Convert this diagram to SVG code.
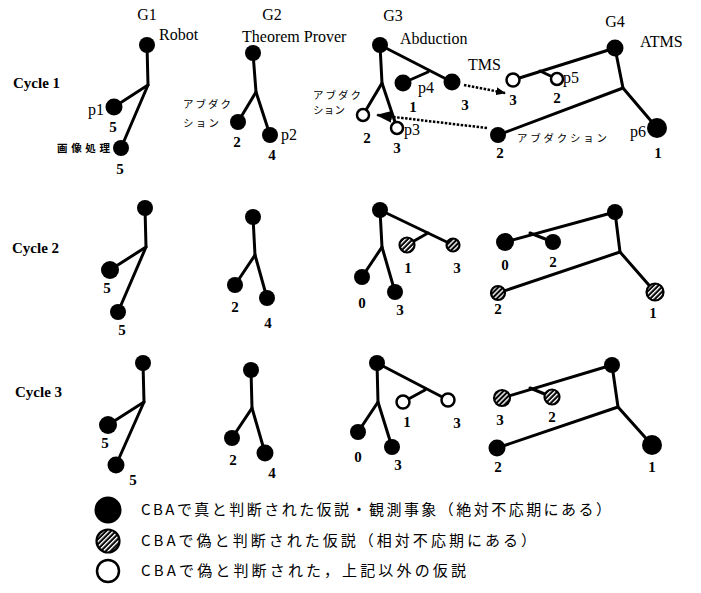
<svg xmlns="http://www.w3.org/2000/svg" width="701" height="593" viewBox="0 0 701 593">
<style>
.e{stroke:#000;stroke-width:3;fill:none;stroke-linecap:round}
.f{fill:#000}
.o{fill:#fff;stroke:#000;stroke-width:2.5}
.h{fill:url(#hatch);stroke:#000;stroke-width:2.2}
.t{font-family:"Liberation Serif",serif;font-size:16px;fill:#000}
.n{font-family:"Liberation Serif",serif;font-size:15px;font-weight:bold;text-anchor:middle;fill:#000}
.j{font-family:"Noto Sans CJK JP",sans-serif;font-size:10.5px;fill:#000}
.c{font-family:"Liberation Serif",serif;font-size:15px;font-weight:bold;fill:#000}
.l{font-family:"Noto Sans CJK JP",sans-serif;font-size:15px;fill:#000}
.d{stroke:#000;stroke-width:2.5;fill:none;stroke-dasharray:2.5 1.5}
</style>
<defs>
<pattern id="hatch" patternUnits="userSpaceOnUse" width="3.5" height="3.5" patternTransform="rotate(45)">
<rect width="3.5" height="3.5" fill="#000"/>
<rect x="0" y="0" width="1.4" height="3.5" fill="#fff"/>
</pattern>
<marker id="ah" markerWidth="10" markerHeight="8" refX="9" refY="4" orient="auto" markerUnits="userSpaceOnUse">
<path d="M0,0 L10,4 L0,8 Z" fill="#000"/>
</marker>
<marker id="ah2" markerWidth="16" markerHeight="12" refX="15" refY="6" orient="auto" markerUnits="userSpaceOnUse">
<path d="M0,0 L16,6 L0,12 Z" fill="#000"/>
</marker>
</defs>
<rect width="701" height="593" fill="#fff"/>

<!-- headers -->
<g id="headers">
<text class="t" x="147" y="20" text-anchor="middle">G1</text>
<text class="t" x="272" y="20" text-anchor="middle">G2</text>
<text class="t" x="393" y="21" text-anchor="middle">G3</text>
<text class="t" x="615" y="27" text-anchor="middle">G4</text>
<text class="t" x="159" y="40">Robot</text>
<text class="t" x="242" y="42">Theorem Prover</text>
<text class="t" x="400" y="44">Abduction</text>
<text class="t" x="640" y="47">ATMS</text>
<text class="c" x="13" y="88">Cycle 1</text>
<text class="c" x="12" y="253">Cycle 2</text>
<text class="c" x="15" y="397">Cycle 3</text>
</g>

<!-- connectors -->
<g id="connectors">
<!-- cycle 1 -->
<polyline class="e" points="147,45 148,85 114,107"/>
<line class="e" x1="148" y1="85" x2="121" y2="148"/>
<polyline class="e" points="253,53 256,92 238,122"/>
<line class="e" x1="256" y1="92" x2="270" y2="135"/>
<polyline class="e" points="380,45 382,83 363,115"/>
<line class="e" x1="382" y1="83" x2="397" y2="128"/>
<line class="e" x1="380" y1="45" x2="452" y2="82"/>
<line class="e" x1="428" y1="72" x2="403" y2="83"/>
<line class="e" x1="615" y1="48" x2="513" y2="80"/>
<line class="e" x1="540" y1="71" x2="557" y2="79"/>
<polyline class="e" points="615,48 623,88 657,128"/>
<line class="e" x1="623" y1="88" x2="498" y2="135"/>
<line class="d" x1="464" y1="85" x2="505" y2="93" marker-end="url(#ah)"/>
<line class="d" x1="487" y1="128" x2="377" y2="115" marker-end="url(#ah2)"/>
<!-- cycle 2 -->
<polyline class="e" points="145,208 146,247 110,270"/>
<line class="e" x1="146" y1="247" x2="118" y2="312"/>
<polyline class="e" points="253,217 255,255 235,285"/>
<line class="e" x1="255" y1="255" x2="267" y2="298"/>
<polyline class="e" points="380,210 382,247 362,277"/>
<line class="e" x1="382" y1="247" x2="395" y2="292"/>
<line class="e" x1="380" y1="210" x2="453" y2="245"/>
<line class="e" x1="428" y1="233" x2="407" y2="245"/>
<line class="e" x1="615" y1="212" x2="505" y2="242"/>
<line class="e" x1="530" y1="233" x2="553" y2="242"/>
<polyline class="e" points="615,212 620,252 655,292"/>
<line class="e" x1="620" y1="252" x2="498" y2="293"/>
<!-- cycle 3 -->
<polyline class="e" points="143,363 144,402 108,425"/>
<line class="e" x1="144" y1="402" x2="116" y2="465"/>
<polyline class="e" points="251,370 252,408 232,438"/>
<line class="e" x1="252" y1="408" x2="265" y2="453"/>
<polyline class="e" points="377,363 378,402 358,432"/>
<line class="e" x1="378" y1="402" x2="392" y2="447"/>
<line class="e" x1="377" y1="363" x2="448" y2="400"/>
<line class="e" x1="425" y1="390" x2="403" y2="402"/>
<line class="e" x1="612" y1="365" x2="502" y2="398"/>
<line class="e" x1="530" y1="388" x2="552" y2="397"/>
<polyline class="e" points="612,365 618,407 652,445"/>
<line class="e" x1="618" y1="407" x2="497" y2="448"/>
</g>

<!-- Cycle 1 nodes -->
<g id="c1-g1-root"><circle class="f" cx="147" cy="45" r="8"/></g>
<g id="c1-g1-p1"><circle class="f" cx="114" cy="107" r="8.5"/><text class="t" x="104" y="115" text-anchor="end">p1</text><text class="n" x="113" y="132">5</text></g>
<g id="c1-g1-img"><circle class="f" cx="121" cy="148" r="8"/><text class="j" x="57" y="152" font-weight="bold" font-size="13" textLength="53">画像処理</text><text class="n" x="120" y="174">5</text></g>

<g id="c1-g2-root"><circle class="f" cx="253" cy="53" r="8"/></g>
<g id="c1-g2-a"><circle class="f" cx="238" cy="122" r="8"/><text class="j" x="183" y="108" textLength="48">アブダク</text><text class="j" x="183" y="127" textLength="36">ション</text><text class="n" x="237" y="147">2</text></g>
<g id="c1-g2-p2"><circle class="f" cx="270" cy="135" r="8"/><text class="t" x="281" y="140">p2</text><text class="n" x="272" y="160">4</text></g>

<g id="c1-g3-root"><circle class="f" cx="380" cy="45" r="8"/></g>
<g id="c1-g3-a"><circle class="o" cx="363" cy="115" r="6"/><text class="j" x="313" y="99" textLength="48">アブダク</text><text class="j" x="313" y="114" textLength="32">ション</text><text class="n" x="367" y="143">2</text></g>
<g id="c1-g3-p3"><circle class="o" cx="397" cy="128" r="6"/><text class="t" x="404" y="135">p3</text><text class="n" x="397" y="153">3</text></g>
<g id="c1-g3-1"><circle class="f" cx="403" cy="83" r="8.5"/><text class="t" x="418" y="93">p4</text><text class="n" x="413" y="112">1</text></g>
<g id="c1-g3-3"><circle class="f" cx="452" cy="82" r="8.5"/><text class="n" x="465" y="110">3</text></g>

<g id="c1-g4-root"><circle class="f" cx="615" cy="48" r="8.5"/></g>
<g id="c1-g4-3"><circle class="o" cx="513" cy="80" r="6.5"/><text class="t" x="468" y="70">TMS</text><text class="n" x="513" y="105">3</text></g>
<g id="c1-g4-p5"><circle class="o" cx="557" cy="79" r="6"/><text class="t" x="563" y="83">p5</text><text class="n" x="557" y="103">2</text></g>
<g id="c1-g4-2"><circle class="f" cx="498" cy="135" r="8"/><text class="j" x="517" y="142" textLength="90">アブダクション</text><text class="n" x="500" y="158">2</text></g>
<g id="c1-g4-p6"><circle class="f" cx="657" cy="128" r="10"/><text class="t" x="646" y="137" text-anchor="end">p6</text><text class="n" x="658" y="158">1</text></g>

<!-- Cycle 2 nodes -->
<g id="c2-g1-root"><circle class="f" cx="145" cy="208" r="8"/></g>
<g id="c2-g1-a"><circle class="f" cx="110" cy="270" r="9"/><text class="n" x="107" y="293">5</text></g>
<g id="c2-g1-b"><circle class="f" cx="118" cy="312" r="8"/><text class="n" x="122" y="335">5</text></g>
<g id="c2-g2-root"><circle class="f" cx="253" cy="217" r="8"/></g>
<g id="c2-g2-a"><circle class="f" cx="235" cy="285" r="8"/><text class="n" x="235" y="312">2</text></g>
<g id="c2-g2-b"><circle class="f" cx="267" cy="298" r="8"/><text class="n" x="268" y="328">4</text></g>
<g id="c2-g3-root"><circle class="f" cx="380" cy="210" r="8"/></g>
<g id="c2-g3-0"><circle class="f" cx="362" cy="277" r="8"/><text class="n" x="362" y="308">0</text></g>
<g id="c2-g3-3"><circle class="f" cx="395" cy="292" r="8"/><text class="n" x="400" y="315">3</text></g>
<g id="c2-g3-1"><circle class="h" cx="407" cy="245" r="7.5"/><text class="n" x="408" y="273">1</text></g>
<g id="c2-g3-3b"><circle class="h" cx="453" cy="245" r="6.5"/><text class="n" x="457" y="273">3</text></g>
<g id="c2-g4-root"><circle class="f" cx="615" cy="212" r="8"/></g>
<g id="c2-g4-0"><circle class="f" cx="505" cy="242" r="9"/><text class="n" x="505" y="270">0</text></g>
<g id="c2-g4-2"><circle class="f" cx="553" cy="242" r="8"/><text class="n" x="553" y="267">2</text></g>
<g id="c2-g4-2b"><circle class="h" cx="498" cy="293" r="7"/><text class="n" x="498" y="314">2</text></g>
<g id="c2-g4-1"><circle class="h" cx="655" cy="292" r="8.5"/><text class="n" x="653" y="318">1</text></g>

<!-- Cycle 3 nodes -->
<g id="c3-g1-root"><circle class="f" cx="143" cy="363" r="8"/></g>
<g id="c3-g1-a"><circle class="f" cx="108" cy="425" r="9"/><text class="n" x="105" y="448">5</text></g>
<g id="c3-g1-b"><circle class="f" cx="116" cy="465" r="8.5"/><text class="n" x="133" y="485">5</text></g>
<g id="c3-g2-root"><circle class="f" cx="251" cy="370" r="8"/></g>
<g id="c3-g2-a"><circle class="f" cx="232" cy="438" r="8"/><text class="n" x="233" y="465">2</text></g>
<g id="c3-g2-b"><circle class="f" cx="265" cy="453" r="8.5"/><text class="n" x="272" y="478">4</text></g>
<g id="c3-g3-root"><circle class="f" cx="377" cy="363" r="8"/></g>
<g id="c3-g3-0"><circle class="f" cx="358" cy="432" r="8"/><text class="n" x="358" y="462">0</text></g>
<g id="c3-g3-3"><circle class="f" cx="392" cy="447" r="8"/><text class="n" x="398" y="470">3</text></g>
<g id="c3-g3-1"><circle class="o" cx="403" cy="402" r="6.5"/><text class="n" x="407" y="427">1</text></g>
<g id="c3-g3-3b"><circle class="o" cx="448" cy="400" r="6.5"/><text class="n" x="457" y="428">3</text></g>
<g id="c3-g4-root"><circle class="f" cx="612" cy="365" r="8"/></g>
<g id="c3-g4-3"><circle class="h" cx="502" cy="398" r="8"/><text class="n" x="500" y="425">3</text></g>
<g id="c3-g4-2"><circle class="h" cx="552" cy="397" r="7.5"/><text class="n" x="552" y="422">2</text></g>
<g id="c3-g4-2b"><circle class="f" cx="497" cy="448" r="8.5"/><text class="n" x="498" y="472">2</text></g>
<g id="c3-g4-1"><circle class="f" cx="652" cy="445" r="10"/><text class="n" x="652" y="472">1</text></g>

<!-- Legend -->
<g id="legend-true"><circle class="f" cx="108" cy="510" r="13.5"/><text class="l" x="141" y="515" textLength="470">CBAで真と判断された仮説・観測事象（絶対不応期にある）</text></g>
<g id="legend-relative"><circle class="h" cx="108" cy="541" r="11.5" stroke-width="2.5"/><text class="l" x="141" y="546" textLength="395">CBAで偽と判断された仮説（相対不応期にある）</text></g>
<g id="legend-other"><circle class="o" cx="108" cy="571" r="11" stroke-width="3"/><text class="l" x="141" y="576" textLength="325">CBAで偽と判断された，上記以外の仮説</text></g>
</svg>
